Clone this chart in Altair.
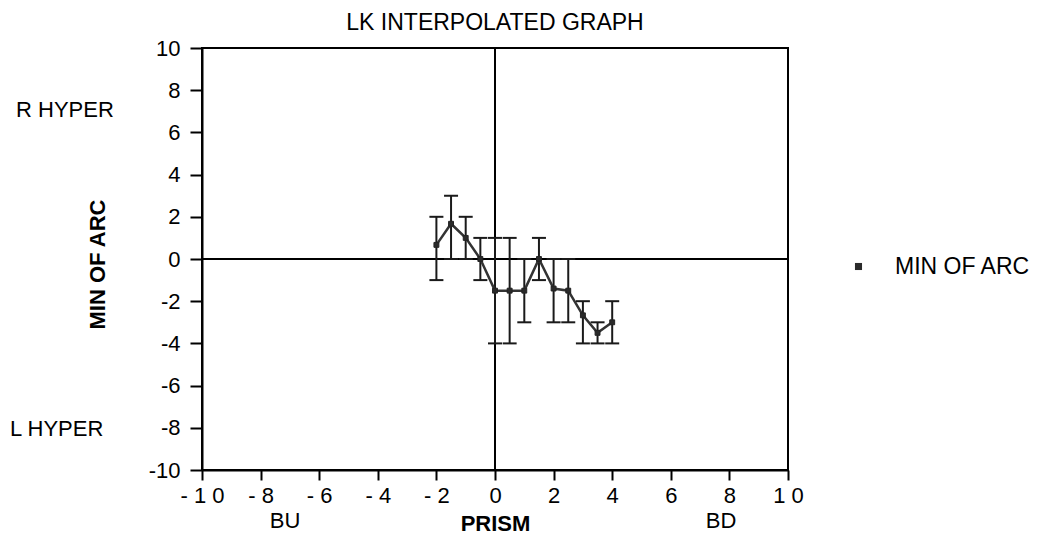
import altair as alt
import pandas as pd

# data
prism = [-2, -1.5, -1, -0.5, 0, 0.5, 1, 1.5, 2, 2.5, 3, 3.5, 4]
arc = [0.67, 1.67, 1.0, 0.0, -1.5, -1.5, -1.5, 0.0, -1.4, -1.5, -2.67, -3.5, -3.0]
arc_lo = [-1, 0, 0, -1, -4, -4, -3, -1, -3, -3, -4, -4, -4]
arc_hi = [2, 3, 2, 1, 1, 1, 0, 1, 0, 0, -2, -3, -2]
series_name = "MIN OF ARC"
axis_ticks = list(range(-10, 11))
zero = [0]

FONT = "Liberation Sans"
FS = 22

df = pd.DataFrame({"prism": prism, "arc": arc, "lo": arc_lo, "hi": arc_hi,
                   "series": [series_name] * len(prism)})
zdf = pd.DataFrame({"z": zero})

xscale = alt.Scale(domain=[-10, 10], nice=False, zero=False)
yscale = alt.Scale(domain=[-10, 10], nice=False, zero=False)

x_label_expr = ("datum.value % 2 != 0 ? '' : datum.value == -10 ? '- 1 0' : "
                "datum.value == 10 ? '1 0' : datum.value < 0 ? '- ' + abs(datum.value) : '' + datum.value")
y_label_expr = "datum.value % 2 != 0 ? '' : '' + datum.value"

xaxis = alt.Axis(values=axis_ticks, labelExpr=x_label_expr, grid=False, labelFlush=False,
                 labelOverlap=False,
                 tickSize={"condition": {"test": "datum.value % 2 == 0", "value": 10}, "value": 6},
                 tickColor="black", tickWidth=2, domainColor="black", domainWidth=2,
                 labelFont=FONT, labelFontSize=FS, labelColor="black", labelPadding=5,
                 title="PRISM", titleFont=FONT, titleFontSize=FS, titleFontWeight="bold",
                 titleColor="black", titleX=293, titleY=53, titleBaseline="middle")
yaxis = alt.Axis(values=axis_ticks, labelExpr=y_label_expr, grid=False, labelFlush=False,
                 labelOverlap=False,
                 tickSize={"condition": {"test": "datum.value % 2 == 0", "value": 12}, "value": 6},
                 tickColor="black", tickWidth=2, domainColor="black", domainWidth=2,
                 labelFont=FONT, labelFontSize=FS, labelColor="black", labelPadding=10,
                 title="MIN OF ARC", titleFont=FONT, titleFontSize=FS, titleFontWeight="bold",
                 titleColor="black", titleX=-105, titleY=216, titleBaseline="middle")

base = alt.Chart(df)

xrule = alt.Chart(zdf).mark_rule(color="black", strokeWidth=2).encode(
    x=alt.X("z:Q", scale=xscale, axis=xaxis))
yrule = alt.Chart(zdf).mark_rule(color="black", strokeWidth=2).encode(
    y=alt.Y("z:Q", scale=yscale, axis=yaxis))

bars = base.mark_rule(color="#1a1a1a", strokeWidth=2).encode(
    x=alt.X("prism:Q", scale=xscale), y=alt.Y("lo:Q", scale=yscale), y2="hi:Q")
caps = base.transform_fold(["lo", "hi"], as_=["k", "v"]).mark_tick(
    orient="horizontal", size=14, thickness=2, color="#1a1a1a", opacity=1).encode(
    x=alt.X("prism:Q", scale=xscale), y=alt.Y("v:Q", scale=yscale))
line = base.mark_line(color="#333", strokeWidth=2.5).encode(
    x=alt.X("prism:Q", scale=xscale), y=alt.Y("arc:Q", scale=yscale))
points = base.mark_square(size=24, filled=True, stroke="#222", strokeWidth=1, opacity=1).encode(
    x=alt.X("prism:Q", scale=xscale), y=alt.Y("arc:Q", scale=yscale),
    color=alt.Color("series:N", scale=alt.Scale(range=["#2a2a2a"]),
                    legend=alt.Legend(title=None, orient="none", legendX=645, legendY=207,
                                      symbolType="square", symbolSize=50,
                                      symbolStrokeWidth=0, labelFont=FONT, labelFontSize=23,
                                      labelColor="black", labelOffset=25)))

annot_left = ["R HYPER", "L HYPER"]
annot_bottom = ["BU", "BD"]
t_r = alt.Chart(zdf).mark_text(text=annot_left[0], font=FONT, fontSize=FS, align="left",
                               baseline="middle", color="black").encode(x=alt.value(-186), y=alt.value(62))
t_l = alt.Chart(zdf).mark_text(text=annot_left[1], font=FONT, fontSize=FS, align="left",
                               baseline="middle", color="black").encode(x=alt.value(-192), y=alt.value(381))
t_bu = alt.Chart(zdf).mark_text(text=annot_bottom[0], font=FONT, fontSize=FS, align="center",
                                baseline="middle", color="black").encode(x=alt.value(83), y=alt.value(473))
t_bd = alt.Chart(zdf).mark_text(text=annot_bottom[1], font=FONT, fontSize=FS, align="center",
                                baseline="middle", color="black").encode(x=alt.value(519), y=alt.value(473))

chart = alt.layer(xrule, yrule, bars, caps, line, points, t_r, t_l, t_bu, t_bd).properties(
    width=586, height=422,
    title=alt.TitleParams("LK INTERPOLATED GRAPH", font=FONT, fontSize=23, fontWeight="normal",
                          color="black", anchor="middle", offset=2),
    autosize=alt.AutoSizeParams(type="none"),
    padding={"left": 194, "top": 40, "right": 244, "bottom": 70},
).configure_view(stroke="black", strokeWidth=2)

chart.save("out.html", embed_options={"renderer": "svg", "actions": False})
